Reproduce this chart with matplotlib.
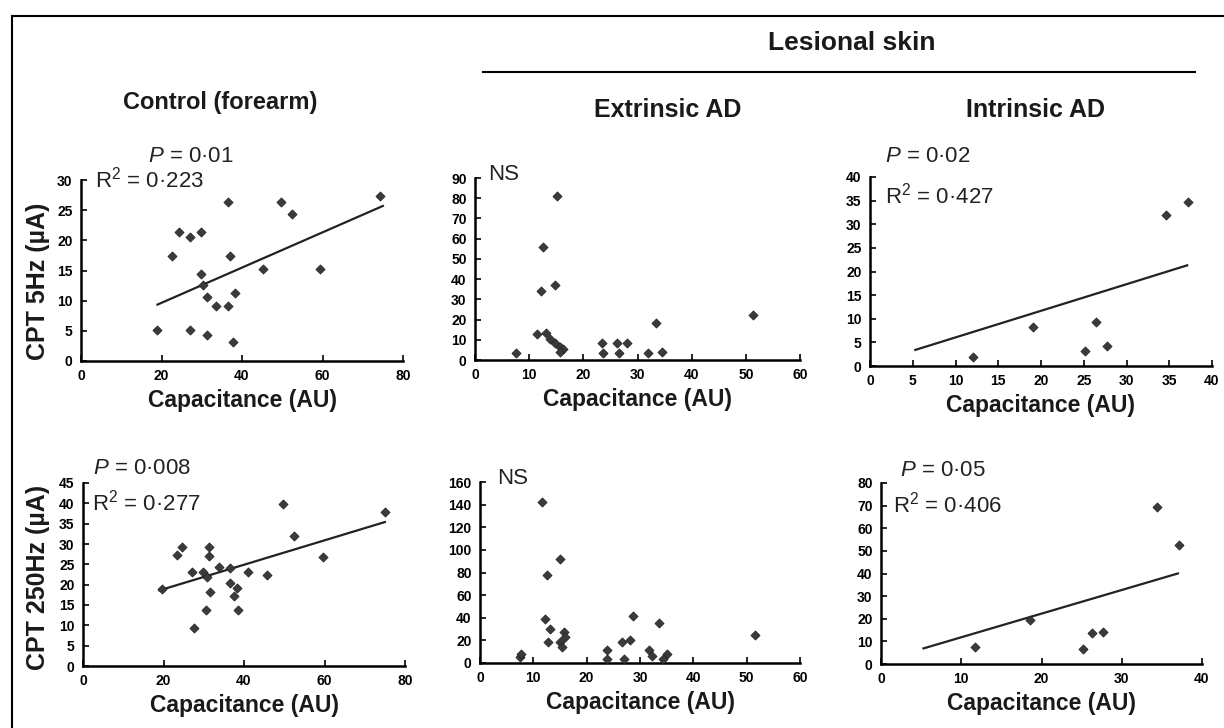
import matplotlib
matplotlib.use('Agg')
import matplotlib.pyplot as plt
import numpy as np
from matplotlib.lines import Line2D

plt.rcParams['font.family'] = ['Liberation Sans', 'DejaVu Sans']
plt.rcParams['mathtext.fontset'] = 'custom'
plt.rcParams['mathtext.it'] = 'Liberation Sans:italic'
plt.rcParams['mathtext.rm'] = 'Liberation Sans'

W, H = 1224, 728

# ---- data ----
# Control (forearm), 5 Hz
ctl5_x = [18.8, 22.7, 24.3, 27.0, 27.0, 29.9, 29.9, 30.4, 31.3, 31.2, 33.5,
          36.6, 37.0, 36.6, 37.8, 38.2, 45.2, 49.6, 52.3, 59.3, 74.2]
ctl5_y = [5.1, 17.4, 21.4, 20.5, 5.1, 21.4, 14.4, 12.6, 10.6, 4.3, 9.1,
          26.4, 17.4, 9.1, 3.2, 11.2, 15.2, 26.4, 24.4, 15.2, 27.3]
ctl5_fit = (0.292, 3.8)     # slope, intercept

# Extrinsic AD, 5 Hz
ext5_x = [7.6, 15.1, 12.6, 14.8, 12.1, 11.4, 13.1, 13.8, 14.8, 15.7, 16.3,
          15.7, 23.4, 23.6, 26.3, 26.6, 28.1, 32.0, 33.5, 34.6, 51.4]
ext5_y = [3.3, 80.9, 56.1, 37.2, 33.9, 12.9, 13.5, 10.2, 8.3, 6.6, 5.3,
          4.1, 8.6, 3.3, 8.6, 3.3, 8.6, 3.3, 18.5, 4.1, 22.3]

# Intrinsic AD, 5 Hz
int5_x = [12.0, 19.1, 25.2, 26.4, 27.7, 34.6, 37.2]
int5_y = [2.0, 8.3, 3.2, 9.3, 4.2, 31.9, 34.7]
int5_fit = (0.563, 0.42)

# Control (forearm), 250 Hz
ctl250_x = [19.6, 23.3, 24.6, 27.0, 27.5, 31.2, 31.2, 30.6, 29.9, 30.8, 31.6,
            33.7, 36.6, 36.6, 38.2, 37.4, 38.6, 41.1, 45.6, 49.8, 52.3, 59.7, 75.0]
ctl250_y = [19.0, 27.3, 29.2, 23.0, 9.3, 29.2, 27.1, 13.8, 23.0, 22.0, 18.3,
            24.3, 24.1, 20.5, 19.1, 17.1, 13.8, 23.0, 22.4, 39.9, 32.0, 26.9, 37.8]
ctl250_fit = (0.30, 12.9)

# Extrinsic AD, 250 Hz
ext250_x = [7.5, 7.6, 11.6, 12.5, 15.0, 12.2, 13.1, 12.8, 15.0, 15.75, 15.3,
            15.9, 23.75, 23.9, 26.6, 27.0, 28.1, 28.6, 31.6, 32.2, 33.6, 35.0,
            34.4, 51.6]
ext250_y = [5.3, 8.3, 142.3, 77.5, 92.2, 39.2, 30.3, 18.6, 18.6, 27.4, 14.1,
            23.0, 11.2, 3.8, 18.6, 3.8, 20.0, 41.2, 11.8, 5.9, 35.4, 8.3,
            3.8, 25.0]

# Intrinsic AD, 250 Hz
int250_x = [11.7, 18.6, 25.2, 26.3, 27.7, 34.4, 37.1]
int250_y = [7.6, 19.4, 6.5, 13.5, 14.3, 69.4, 52.5]
int250_fit = (1.045, 1.36)

col_titles = ['Control (forearm)', 'Extrinsic AD', 'Intrinsic AD']
group_title = 'Lesional skin'
row_labels = ['CPT 5Hz (µA)', 'CPT 250Hz (µA)']
x_label = 'Capacitance (AU)'


def fx(px):
    return px / W


def fy(py):
    return 1 - py / H


fig = plt.figure(figsize=(W / 100, H / 100), dpi=100)

# frame lines at top and left
fig.add_artist(Line2D([fx(12), 1], [fy(16), fy(16)], color='black', lw=1.5))
fig.add_artist(Line2D([fx(12), fx(12)], [fy(16), 0], color='black', lw=1.5))
# "Lesional skin" bar
fig.add_artist(Line2D([fx(483), fx(1195)], [fy(72), fy(72)], color='black', lw=1.5))

title_font = dict(fontweight='bold', ha='center', va='center', color='#1a1a1a')
fig.text(fx(852), fy(43), group_title, fontsize=19, **title_font)
fig.text(fx(220), fy(103), col_titles[0], fontsize=17, **title_font)
fig.text(fx(668), fy(110), col_titles[1], fontsize=18, **title_font)
fig.text(fx(1036), fy(110), col_titles[2], fontsize=18, **title_font)

row_font = dict(rotation=90, fontsize=18, fontweight='bold', ha='center',
                va='center', color='#1a1a1a')
fig.text(fx(38), fy(281), row_labels[0], **row_font)
fig.text(fx(38), fy(577), row_labels[1], **row_font)

panels = [
    # x, y, fit, xmax, xstep, ymax, ystep, (left, top, right, bottom) px, fit range
    (ctl5_x, ctl5_y, ctl5_fit, 80, 20, 30, 5, (81, 180, 403, 361), (19, 75)),
    (ext5_x, ext5_y, None, 60, 10, 90, 10, (475, 178, 800, 360), None),
    (int5_x, int5_y, int5_fit, 40, 5, 40, 5, (870, 177, 1212, 366), (5.3, 37.1)),
    (ctl250_x, ctl250_y, ctl250_fit, 80, 20, 45, 5, (83, 483, 405, 666), (19, 75)),
    (ext250_x, ext250_y, None, 60, 10, 160, 20, (480, 482, 800, 663), None),
    (int250_x, int250_y, int250_fit, 40, 10, 80, 10, (881, 483, 1202, 664), (5.3, 37)),
]

axes = []
for xs, ys, fit, xmax, xstep, ymax, ystep, box, rng in panels:
    l, t, r, b = box
    ax = fig.add_axes([fx(l), fy(b), (r - l) / W, (b - t) / H])
    ax.scatter(xs, ys, s=22, marker='D', color='#3a3a3a', edgecolors='#222222',
               linewidths=0.5, clip_on=False, zorder=3)
    if fit is not None:
        xx = np.array(rng)
        ax.plot(xx, fit[0] * xx + fit[1], color='#222222', lw=1.6)
    ax.set_xlim(0, xmax)
    ax.set_ylim(0, ymax)
    ax.set_xticks(np.arange(0, xmax + 1, xstep))
    ax.set_yticks(np.arange(0, ymax + 1, ystep))
    for s in ['top', 'right']:
        ax.spines[s].set_visible(False)
    for s in ['left', 'bottom']:
        ax.spines[s].set_linewidth(1.8)
    ax.tick_params(direction='in', length=4, width=1.2, labelsize=10, pad=6)
    for lab in ax.get_xticklabels() + ax.get_yticklabels():
        lab.set_fontweight('bold')
    ax.set_xlabel(x_label, fontsize=16.5, fontweight='bold', labelpad=4,
                  color='#1a1a1a')
    ax.patch.set_alpha(0)
    axes.append(ax)

stat_font = dict(fontsize=16, color='#222222', ha='left', va='center')
fig.text(fx(148), fy(157), r'$\mathit{P}$ = 0·01', **stat_font)
fig.text(fx(95), fy(180), r'R$^{2}$ = 0·223', **stat_font)
fig.text(fx(488), fy(175), 'NS', **stat_font)
fig.text(fx(885), fy(157), r'$\mathit{P}$ = 0·02', **stat_font)
fig.text(fx(885), fy(196), r'R$^{2}$ = 0·427', **stat_font)
fig.text(fx(93), fy(468), r'$\mathit{P}$ = 0·008', **stat_font)
fig.text(fx(92), fy(503), r'R$^{2}$ = 0·277', **stat_font)
fig.text(fx(497), fy(479), 'NS', **stat_font)
fig.text(fx(900), fy(470), r'$\mathit{P}$ = 0·05', **stat_font)
fig.text(fx(893), fy(505), r'R$^{2}$ = 0·406', **stat_font)

fig.savefig('out.png', dpi=100)
